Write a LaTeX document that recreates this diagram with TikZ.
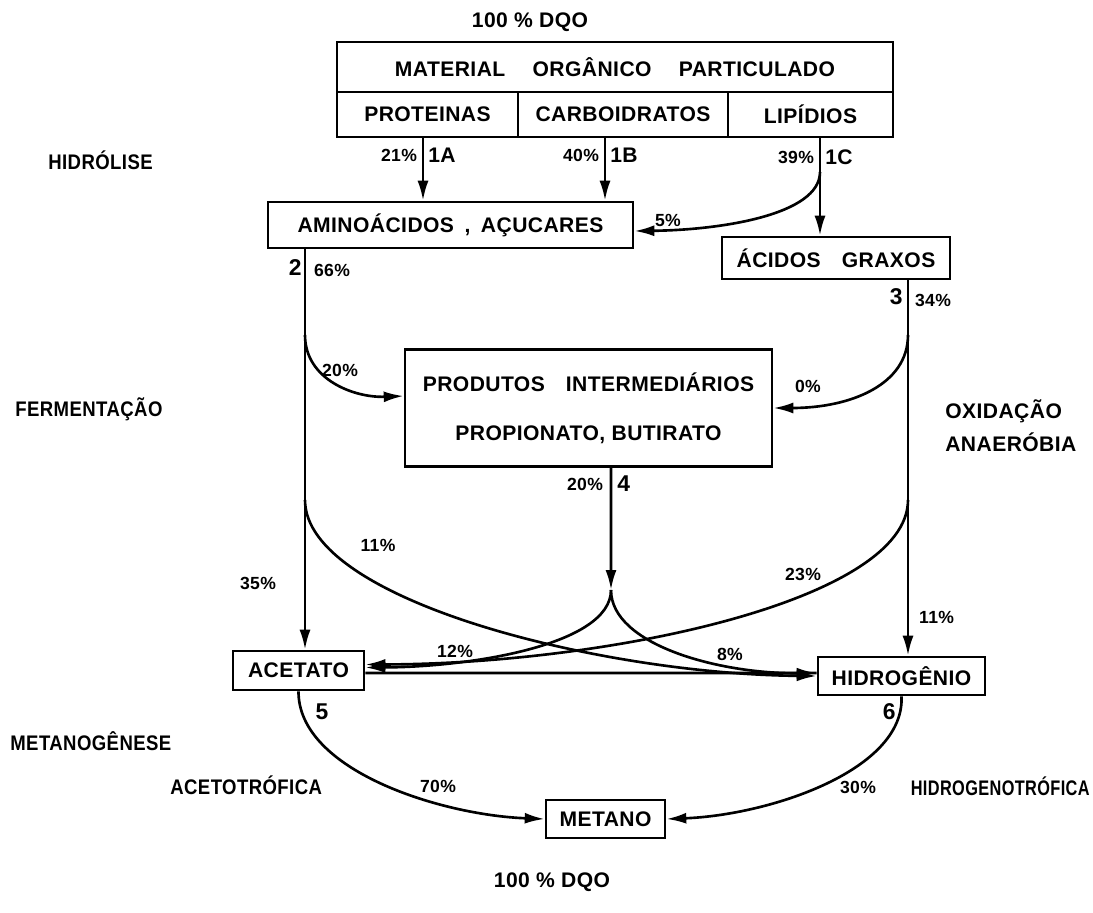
\documentclass[tikz,border=0pt]{standalone}
\usepackage{fontspec}
\setmainfont{Liberation Sans}[LetterSpace=2]
\newfontfamily\narrowfam{Liberation Sans}[FakeStretch=0.88, LetterSpace=2]
\usetikzlibrary{arrows.meta, calc}

\newcommand{\lblfont}{\fontsize{12}{14}\selectfont\bfseries}
\newcommand{\sidefont}{\narrowfam\fontsize{12}{14}\selectfont\bfseries}
\newcommand{\numfont}{\fontsize{13}{15}\selectfont\bfseries}
\newcommand{\pctfont}{\fontsize{10}{12}\selectfont\bfseries}
\newcommand{\pu}{0.02cm}

\tikzset{
 stage/.style={draw, line width=1.5pt, inner sep=0pt, font=\lblfont},
 sz/.style 2 args={minimum width=#1*\pu, minimum height=#2*\pu},
 flux/.style={-{Latex[length=0.4cm, width=0.22cm]}, line width=1.5pt},
 pct/.style={font=\pctfont, inner sep=1pt},
 txt/.style={font=\lblfont, inner sep=0pt},
 side/.style={font=\sidefont, inner sep=0pt},
 num/.style={font=\numfont, inner sep=0pt},
}

\begin{document}
\begin{tikzpicture}[x=0.02cm, y=-0.02cm]
\useasboundingbox (0,0) rectangle (1093,913);

 %boxes:
 \node[stage, sz={556}{50}] (mop) at (615,67) {MATERIAL\quad{} ORGÂNICO\quad{} PARTICULADO};
 \node[stage, sz={181}{45}] (prot) at (427.5,114.5) {PROTEINAS};
 \node[stage, sz={210}{45}] (carb) at (623,114.5) {CARBOIDRATOS};
 \node[stage, sz={165}{45}] (lip) at (810.5,114.5) {LIPÍDIOS};
 \node[stage, sz={365}{46}] (amino) at (450.5,225) {AMINOÁCIDOS\enspace ,\enspace AÇUCARES};
 \node[stage, sz={228}{42}] (acid) at (836,258) {ÁCIDOS\quad GRAXOS};
 \node[stage, sz={367}{117}, align=center] (prod) at (588.5,408) {PRODUTOS\quad INTERMEDIÁRIOS\\[14pt]PROPIONATO, BUTIRATO};
 \node[stage, sz={131}{39}] (acet) at (298.5,670.5) {ACETATO};
 \node[stage, sz={167}{38}] (hidr) at (901.5,676) {HIDROGÊNIO};
 \node[stage, sz={119}{38}] (met) at (605.5,819) {METANO};

 %stages:
 \node[txt] (dqoT) at (530,22) {100 \% DQO};
 \node[txt] (dqoB) at (552,882) {100 \% DQO};
 \node[side, anchor=west] (hid) at (48,160) {HIDRÓLISE};
 \node[side, anchor=west] (fer) at (15,409) {FERMENTAÇÃO};
 \node[txt, anchor=west, align=left] (oxi) at (945,426) {OXIDAÇÃO\\[5pt]ANAERÓBIA};
 \node[side, anchor=west] (mtg) at (10,741) {METANOGÊNESE};
 \node[side, anchor=west] (act) at (170,785) {ACETOTRÓFICA};
 \node[side, anchor=east] (hgt) at (1090,786) {\scalebox{0.88}[1]{HIDROGENOTRÓFICA}};

 \coordinate (p1a) at ($(prot.south)+(-4.5,0)$);
 \coordinate (p1b) at ($(carb.south)+(-18,0)$);
 \coordinate (p1c) at ($(lip.south)+(9.5,0)$);
 \coordinate (j5) at (820,172);
 \coordinate (s2) at ($(amino.south)+(-145.5,0)$);
 \coordinate (s3) at ($(acid.south)+(72,0)$);
 \coordinate (s4) at ($(prod.south)+(22.5,0)$);
 \coordinate (m4) at (611,590);
 \coordinate (j20) at (305,335);
 \coordinate (j0) at (908,335);
 \coordinate (j11) at (305,500);
 \coordinate (j23) at (908,500);

 %hidrolise:
 \draw[flux] (p1a) -- (p1a |- amino.north);
 \draw[flux] (p1b) -- (p1b |- amino.north);
 \draw[flux] (p1c) -- (p1c |- acid.north);
 \draw[flux] (j5) .. controls (820,215) and (720,230) .. ($(amino.east)+(0,6)$);

 %fermentacao, oxidacao:
 \draw[flux] (s2) -- (s2 |- acet.north);
 \draw[flux] (s3) -- (s3 |- hidr.north);
 \draw[flux] (j20) .. controls (305,380) and (355,398) .. ($(prod.west)+(0,-12)$);
 \draw[flux] (j0) .. controls (908,385) and (850,408) .. (prod.east);
 \draw[flux] (s4) -- (m4);
 \draw[flux] (m4) .. controls (611,645) and (470,667) .. ($(acet.east)+(0,-3)$);
 \draw[flux] (m4) .. controls (611,645) and (720,674) .. ($(hidr.west)+(0,-3)$);
 \draw[flux] (j11) .. controls (305,600) and (600,674) .. (hidr.west);
 \draw[flux] (j23) .. controls (908,600) and (610,664) .. ($(acet.east)+(0,-6)$);
 \draw[line width=1.5pt] ($(acet.east)+(0,2.5)$) -- ($(hidr.west)+(0,-3)$);

 %metanogenese:
 \draw[flux] (acet.south) .. controls (298,770) and (440,815) .. (met.west);
 \draw[flux] (hidr.south) .. controls (905,770) and (770,815) .. (met.east);

 %percentages:
 \node[pct, anchor=east] (l21) at (419,155) {21\%};
 \node[txt, anchor=west] (n1a) at (428,155) {1A};
 \node[pct, anchor=east] (l40) at (601,155) {40\%};
 \node[txt, anchor=west] (n1b) at (610,155) {1B};
 \node[pct, anchor=east] (l39) at (816,157) {39\%};
 \node[txt, anchor=west] (n1c) at (825,157) {1C};
 \node[pct] (l5) at (668,220) {5\%};
 \node[num, anchor=east] (n2) at (302,268) {2};
 \node[pct, anchor=west] (l66) at (312,270) {66\%};
 \node[num, anchor=east] (n3) at (903,297) {3};
 \node[pct, anchor=west] (l34) at (913,300) {34\%};
 \node[pct] (l20a) at (340,370) {20\%};
 \node[pct] (l0) at (808,386) {0\%};
 \node[pct, anchor=east] (l20b) at (605,484) {20\%};
 \node[num, anchor=west] (n4) at (617,484) {4};
 \node[pct] (l11a) at (378,545) {11\%};
 \node[pct] (l35) at (258,583) {35\%};
 \node[pct] (l23) at (803,574) {23\%};
 \node[pct, anchor=west] (l11b) at (917,617) {11\%};
 \node[pct] (l12) at (455,651) {12\%};
 \node[pct] (l8) at (730,654) {8\%};
 \node[num] (n5) at (322,712) {5};
 \node[num, anchor=east] (n6) at (896,712) {6};
 \node[pct] (l70) at (438,786) {70\%};
 \node[pct] (l30) at (858,787) {30\%};
\end{tikzpicture}
\end{document}
